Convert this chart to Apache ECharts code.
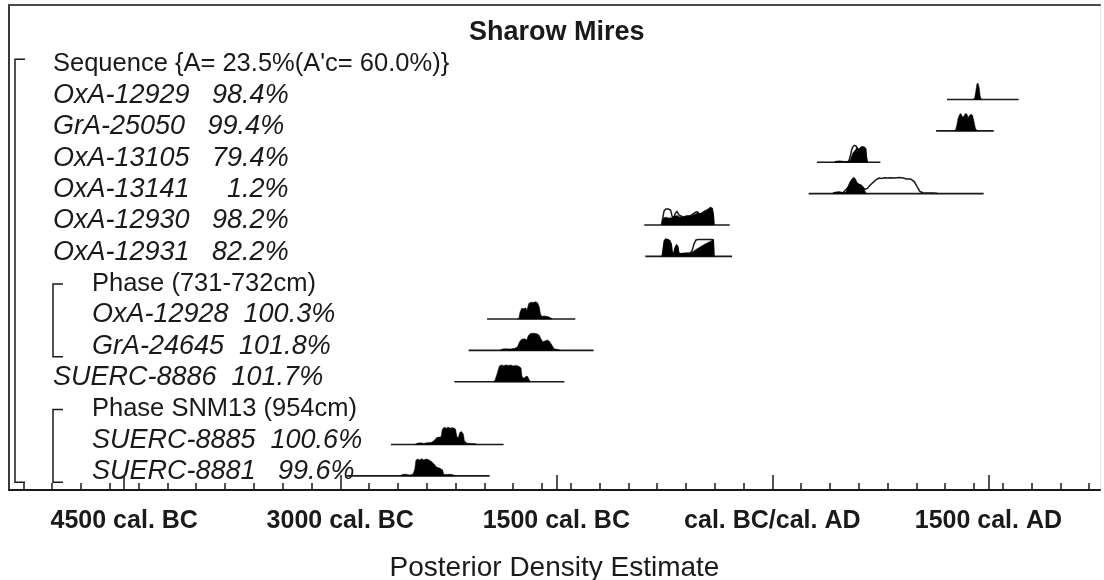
<!DOCTYPE html>
<html>
<head>
<meta charset="utf-8">
<script src="https://cdn.jsdelivr.net/npm/echarts@6/dist/echarts.min.js"></script>
<style>
  html, body { margin: 0; padding: 0; background: #ffffff; }
  #chart { width: 1104px; height: 580px; }
</style>
</head>
<body>
<div id="chart"></div>
<script>
// ---- Sharow Mires: OxCal sequence model, posterior density estimates ----

const chartTitle = 'Sharow Mires';
const axisTitle = 'Posterior Density Estimate';

// calendar axis (negative = cal. BC)
const tickYears = [-4500, -3000, -1500, 0, 1500];
const tickLabels = ['4500 cal. BC', '3000 cal. BC', '1500 cal. BC', 'cal. BC/cal. AD', '1500 cal. AD'];

// one entry per plot row, top to bottom
const rowLabels = [
  "Sequence {A= 23.5%(A'c= 60.0%)}",
  'OxA-12929   98.4%',
  'GrA-25050   99.4%',
  'OxA-13105   79.4%',
  'OxA-13141     1.2%',
  'OxA-12930   98.2%',
  'OxA-12931   82.2%',
  'Phase (731-732cm)',
  'OxA-12928  100.3%',
  'GrA-24645  101.8%',
  'SUERC-8886  101.7%',
  'Phase SNM13 (954cm)',
  'SUERC-8885  100.6%',
  'SUERC-8881   99.6%'
];
const rowDepth = [0, 0, 0, 0, 0, 0, 0, 1, 1, 1, 0, 1, 1, 1];
const rowIsDate = [false, true, true, true, true, true, true, false, true, true, true, false, true, true];

// brackets: [first row, last row, depth]
const groupSequence = [0, 13, 0];
const groupPhase731 = [7, 9, 1];
const groupPhaseSNM13 = [11, 13, 1];

// dated samples: row index and plotted range (cal. years)
const dateRow   = [1, 2, 3, 4, 5, 6, 8, 9, 10, 12, 13];
const rangeFrom = [1213, 1137, 310, 252, -889, -882, -1981, -2109, -2208, -2648, -2958];
const rangeTo   = [1710, 1537, 750, 1467, -296, -280, -1368, -1241, -1444, -1866, -1963];

// posterior densities [year, relative density]
const postOxA12929 = [[1395,0],[1405,0.1],[1413,0.5],[1420,0.9],[1428,0.95],[1436,0.7],[1443,0.2],[1452,0]];
const postGrA25050 = [[1262,0],[1272,0.05],[1280,0.3],[1290,0.75],[1300,0.95],[1310,1.0],[1320,0.8],[1330,0.85],[1340,1.0],[1350,0.98],[1360,0.78],[1370,0.9],[1380,0.97],[1390,0.9],[1400,0.55],[1410,0.15],[1420,0.03],[1430,0]];
const postOxA13105 = [[430,0],[440,0.06],[470,0.08],[495,0.05],[520,0.05],[540,0.1],[550,0.35],[560,0.55],[575,0.7],[588,0.85],[600,0.75],[612,0.85],[622,0.9],[638,0.88],[648,0.8],[653,0.3],[658,0]];
const postOxA13141 = [[420,0],[430,0.07],[460,0.1],[490,0.06],[510,0.08],[525,0.4],[540,0.7],[555,0.88],[565,0.95],[578,0.85],[590,0.6],[605,0.55],[620,0.5],[635,0.35],[645,0.1],[655,0]];
const postOxA12930 = [[-770,0],[-762,0.2],[-755,0.42],[-740,0.45],[-720,0.4],[-700,0.42],[-680,0.5],[-662,0.55],[-645,0.48],[-620,0.45],[-600,0.5],[-580,0.52],[-560,0.55],[-540,0.6],[-520,0.7],[-500,0.65],[-480,0.72],[-460,0.8],[-445,0.9],[-430,1.0],[-418,0.95],[-410,0.6],[-405,0]];
const postOxA12931 = [[-765,0],[-758,0.4],[-750,0.9],[-740,1.0],[-725,0.97],[-712,0.9],[-702,0.7],[-695,0.2],[-685,0.15],[-675,0.5],[-665,0.65],[-656,0.55],[-650,0.2],[-640,0.15],[-600,0.18],[-570,0.2],[-555,0.25],[-530,0.4],[-500,0.55],[-470,0.7],[-440,0.83],[-420,0.92],[-410,0.95],[-405,0]];
const postOxA12928 = [[-1770,0],[-1760,0.05],[-1752,0.4],[-1740,0.62],[-1725,0.6],[-1712,0.65],[-1704,0.5],[-1698,0.7],[-1690,0.92],[-1675,0.98],[-1660,0.96],[-1645,1.0],[-1630,0.95],[-1618,0.7],[-1610,0.3],[-1600,0.15],[-1585,0.18],[-1560,0.15],[-1540,0.08],[-1528,0]];
const postGrA24645 = [[-1890,0],[-1875,0.08],[-1850,0.1],[-1820,0.08],[-1790,0.12],[-1770,0.2],[-1755,0.5],[-1740,0.65],[-1720,0.68],[-1705,0.6],[-1695,0.85],[-1680,0.98],[-1660,1.0],[-1640,0.98],[-1620,0.9],[-1605,0.65],[-1595,0.5],[-1580,0.55],[-1560,0.6],[-1545,0.5],[-1530,0.3],[-1515,0.1],[-1490,0.05],[-1470,0]];
const postSUERC8886 = [[-1935,0],[-1925,0.1],[-1910,0.5],[-1895,0.92],[-1880,0.98],[-1865,0.93],[-1850,0.98],[-1830,0.95],[-1815,0.98],[-1800,0.92],[-1780,0.95],[-1760,0.9],[-1745,0.8],[-1738,0.3],[-1725,0.2],[-1712,0.3],[-1700,0.32],[-1690,0.15],[-1680,0]];
const postSUERC8885 = [[-2480,0],[-2465,0.08],[-2440,0.1],[-2420,0.06],[-2400,0.1],[-2370,0.12],[-2352,0.2],[-2330,0.4],[-2300,0.45],[-2292,0.85],[-2280,1.0],[-2265,0.95],[-2250,1.0],[-2235,0.95],[-2220,0.98],[-2200,0.9],[-2190,0.45],[-2180,0.4],[-2170,0.7],[-2158,0.75],[-2145,0.6],[-2138,0.2],[-2120,0.08],[-2090,0.06],[-2060,0.04],[-2050,0]];
const postSUERC8881 = [[-2585,0],[-2570,0.08],[-2545,0.1],[-2520,0.05],[-2495,0.1],[-2482,0.4],[-2475,0.9],[-2462,0.98],[-2448,0.92],[-2435,1.0],[-2420,0.92],[-2405,0.98],[-2390,0.95],[-2370,0.85],[-2350,0.7],[-2330,0.5],[-2310,0.45],[-2290,0.35],[-2282,0.1],[-2265,0.08],[-2240,0.1],[-2215,0.06],[-2205,0]];

// unmodelled (likelihood) outlines where they show above the posterior
const likeOxA13105 = [[520,0],[530,0.05],[540,0.3],[550,0.7],[560,0.9],[570,0.98],[580,0.95],[590,0.8],[600,0.72],[612,0.82],[622,0.88],[638,0.86],[648,0.78],[653,0.3],[660,0]];
const likeOxA13141 = [[420,0],[430,0.05],[460,0.08],[490,0.05],[525,0.35],[545,0.65],[560,0.75],[575,0.7],[600,0.5],[625,0.35],[645,0.25],[660,0.3],[680,0.5],[700,0.65],[720,0.8],[740,0.9],[760,0.88],[780,0.92],[800,0.9],[820,0.92],[850,0.9],[880,0.93],[910,0.9],[930,0.85],[960,0.85],[985,0.7],[1005,0.4],[1025,0.12],[1045,0.05],[1080,0.04],[1120,0.03],[1150,0]];
const likeOxA12930 = [[-770,0],[-762,0.35],[-752,0.8],[-740,0.92],[-720,0.92],[-706,0.85],[-696,0.5],[-684,0.45],[-672,0.7],[-662,0.78],[-650,0.6],[-630,0.5],[-616,0.47],[-595,0.52],[-570,0.53],[-548,0.65],[-530,0.75],[-520,0.76],[-505,0.62],[-490,0.68],[-470,0.8],[-445,0.9],[-430,1.0],[-418,0.95],[-410,0.6],[-405,0]];
const likeOxA12931 = [[-765,0],[-758,0.4],[-750,0.9],[-740,1.0],[-725,0.97],[-712,0.9],[-702,0.7],[-695,0.2],[-685,0.15],[-675,0.5],[-665,0.65],[-656,0.55],[-650,0.2],[-640,0.15],[-600,0.18],[-570,0.2],[-558,0.3],[-545,0.7],[-530,0.95],[-515,0.98],[-480,0.97],[-450,0.98],[-420,0.97],[-410,0.95],[-405,0]];

const posteriors = [postOxA12929, postGrA25050, postOxA13105, postOxA13141, postOxA12930, postOxA12931,
                    postOxA12928, postGrA24645, postSUERC8886, postSUERC8885, postSUERC8881];
const likelihoods = [null, null, likeOxA13105, likeOxA13141, likeOxA12930, likeOxA12931,
                     null, null, null, null, null];
const groups = [groupSequence, groupPhase731, groupPhaseSNM13];

// ---- drawing ----
const FONT = "'Liberation Sans', Arial, Helvetica, sans-serif";
const INK = '#1a1a1a';
const PEAK = 0.55;            // row units taken by a density of 1
const INDENT = [44, 83];      // label indent per nesting depth (px from frame)
const BRACKET_X = [6, 44];    // bracket spine per nesting depth (px from frame)

const minorYears = [];
for (let y = -5200; y <= 2200; y += 200) minorYears.push(y);

function densityPoints(api, pts, row) {
  return pts.map(p => api.coord([p[0], row - p[1] * PEAK]));
}

const hidden = { show: false };

const chart = echarts.init(document.getElementById('chart'), null, { renderer: 'canvas' });

chart.setOption({
  animation: false,
  backgroundColor: '#ffffff',
  title: {
    text: chartTitle,
    left: 464,
    top: 14,
    textStyle: { fontFamily: FONT, fontSize: 27, fontWeight: 'bold', color: INK }
  },
  grid: { left: 9, right: 4, top: 5, bottom: 90, containLabel: false, outerBoundsMode: 'none' },
  xAxis: [
    {
      type: 'value', min: -5300, max: 2275, position: 'bottom',
      axisLine: { onZero: false, lineStyle: { color: INK, width: 2 } },
      axisTick: { inside: true, length: 15, lineStyle: { color: INK, width: 1.5 }, customValues: tickYears },
      axisLabel: {
        customValues: tickYears, margin: 19,
        fontFamily: FONT, fontSize: 25, fontWeight: 'bold', color: INK,
        formatter: v => tickLabels[tickYears.indexOf(v)]
      },
      splitLine: hidden,
      name: axisTitle, nameLocation: 'middle', nameGap: 64,
      nameTextStyle: { fontFamily: FONT, fontSize: 28, color: INK }
    },
    {
      type: 'value', min: -5300, max: 2275, position: 'bottom',
      axisLine: { show: false, onZero: false },
      axisTick: { inside: true, length: 7, lineStyle: { color: INK, width: 1.5 }, customValues: minorYears },
      axisLabel: hidden, splitLine: hidden
    },
    {
      type: 'value', min: -5300, max: 2275, position: 'top',
      axisLine: { onZero: false, lineStyle: { color: '#4a4a4a', width: 2 } },
      axisTick: hidden, axisLabel: hidden, splitLine: hidden
    }
  ],
  yAxis: [
    {
      type: 'value', inverse: true, min: -2.013, max: 13.45, position: 'left',
      axisLine: { show: true, onZero: false, lineStyle: { color: '#3a3a3a', width: 2 } },
      axisTick: hidden, axisLabel: hidden, splitLine: hidden
    },
    {
      type: 'value', inverse: true, min: -2.013, max: 13.45, position: 'right',
      axisLine: { show: true, onZero: false, lineStyle: { color: '#e6e6e6', width: 1 } },
      axisTick: hidden, axisLabel: hidden, splitLine: hidden
    }
  ],
  series: [
    {
      // row labels
      type: 'custom', xAxisIndex: 0, yAxisIndex: 0, clip: false, silent: true,
      data: rowLabels.map((t, i) => [0, i]),
      renderItem: (params, api) => {
        const i = params.dataIndex;
        const cs = params.coordSys;
        const y = api.coord([0, i - 0.13])[1];
        return {
          type: 'text',
          x: cs.x + INDENT[rowDepth[i]], y: y,
          style: {
            text: rowLabels[i], fill: INK,
            font: rowIsDate[i] ? 'italic 27px ' + FONT : '25.5px ' + FONT,
            align: 'left', verticalAlign: 'middle'
          }
        };
      }
    },
    {
      // sequence / phase brackets
      type: 'custom', xAxisIndex: 0, yAxisIndex: 0, clip: false, silent: true,
      data: groups.map(g => [0, g[0], g[1]]),
      renderItem: (params, api) => {
        const g = groups[params.dataIndex];
        const cs = params.coordSys;
        const x = cs.x + BRACKET_X[g[2]];
        const top = api.coord([0, g[0] - (g[2] === 0 ? 0.28 : 0.12)])[1];
        const bot = api.coord([0, g[1] + 0.2])[1];
        return {
          type: 'polyline',
          shape: { points: [[x + 10, top], [x, top], [x, bot], [x + 10, bot]] },
          style: { stroke: INK, lineWidth: 1.5, fill: null }
        };
      }
    },
    {
      // ranges, likelihood outlines and posterior densities
      type: 'custom', xAxisIndex: 0, yAxisIndex: 0, clip: false, silent: true,
      data: dateRow.map((r, k) => [rangeFrom[k], r, rangeTo[k]]),
      renderItem: (params, api) => {
        const k = params.dataIndex;
        const row = api.value(1);
        const a = api.coord([api.value(0), row]);
        const b = api.coord([api.value(2), row]);
        const children = [{
          type: 'line',
          shape: { x1: a[0], y1: a[1], x2: b[0], y2: b[1] },
          style: { stroke: INK, lineWidth: 1.6 }
        }];
        if (likelihoods[k]) {
          children.push({
            type: 'polyline',
            shape: { points: densityPoints(api, likelihoods[k], row) },
            style: { stroke: INK, lineWidth: 1.5, fill: null }
          });
        }
        children.push({
          type: 'polygon',
          shape: { points: densityPoints(api, posteriors[k], row) },
          style: { fill: '#000000', stroke: '#000000', lineWidth: 0.5 }
        });
        return { type: 'group', children: children };
      }
    }
  ]
});
</script>
</body>
</html>
